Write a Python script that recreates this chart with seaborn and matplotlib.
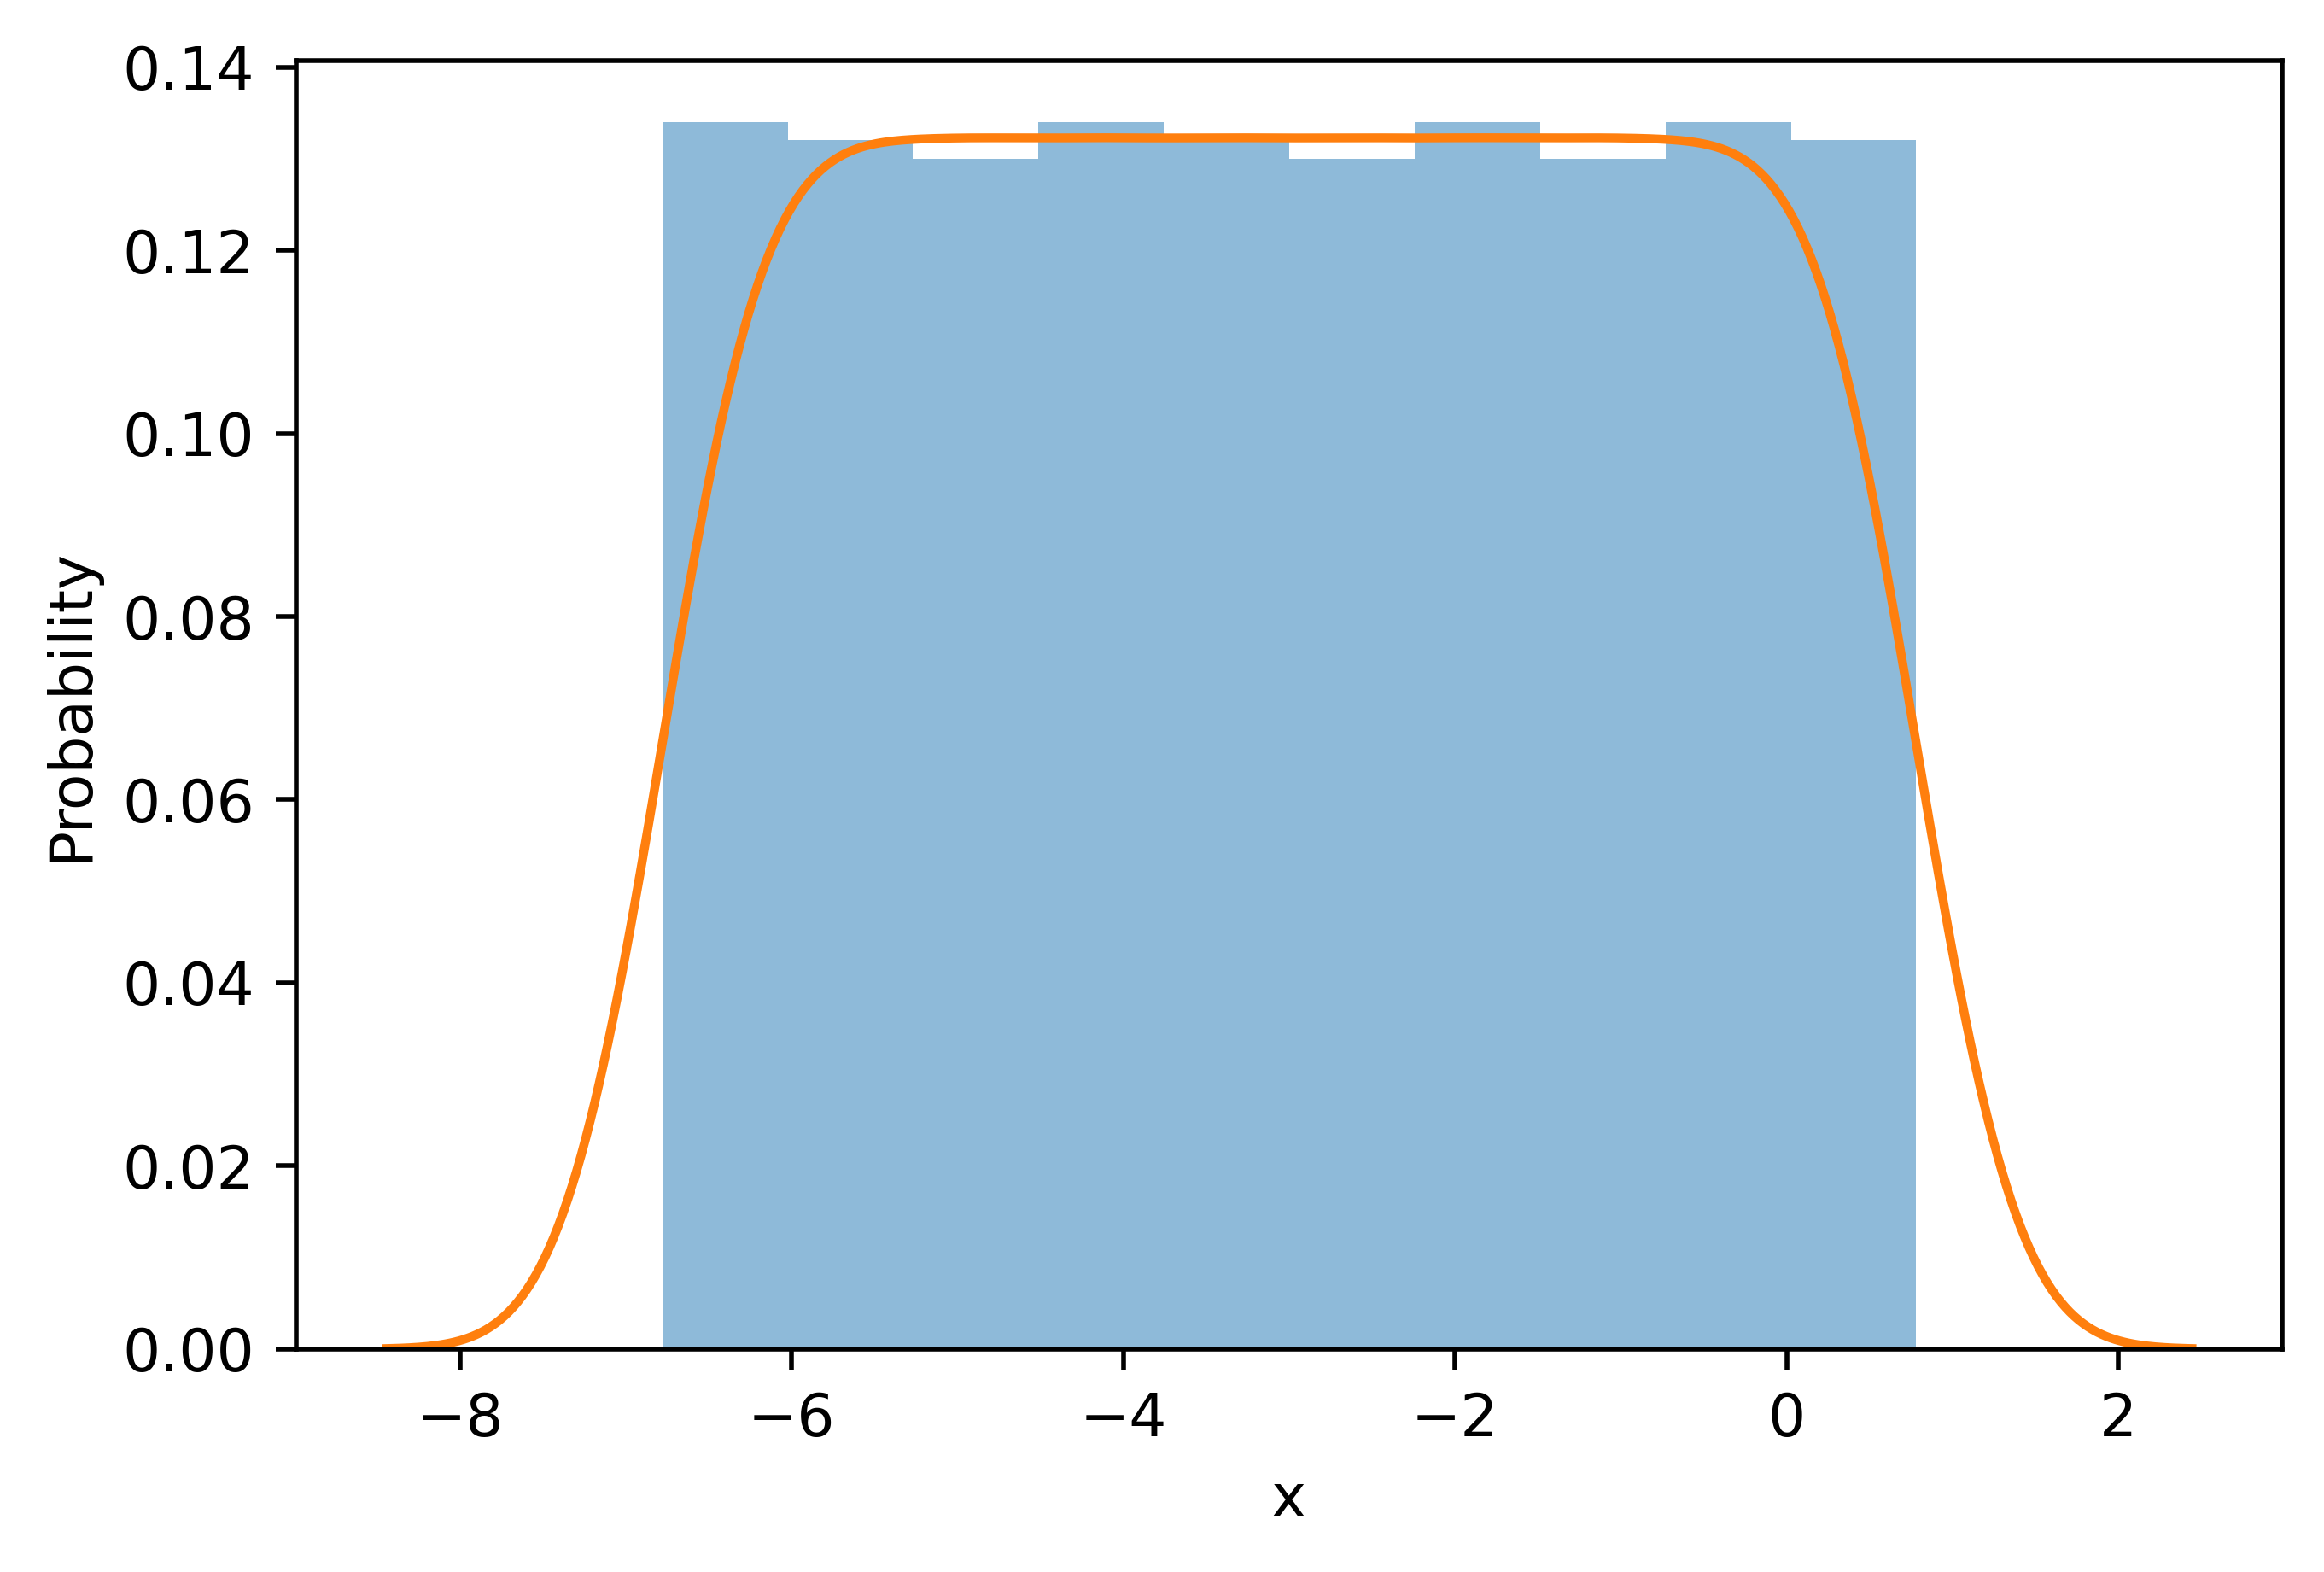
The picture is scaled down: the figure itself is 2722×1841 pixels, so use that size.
import numpy as np
import pandas as pd
import matplotlib
matplotlib.use('Agg')
import matplotlib.pyplot as plt
import seaborn as sns

# histogram: 10 equal bins, density heights
bin_edges = [-6.78, -6.024, -5.268, -4.512, -3.756, -3.0,
             -2.244, -1.488, -0.732, 0.024, 0.78]
bin_heights = [0.134, 0.132, 0.130, 0.134, 0.132,
               0.130, 0.134, 0.130, 0.134, 0.132]
x_label = 'x'
y_label = 'Probability'

edges = np.array(bin_edges)
df = pd.DataFrame({
    'x': (edges[:-1] + edges[1:]) / 2,
    'w': bin_heights,
})

DPI = 500
fig, ax = plt.subplots(figsize=(2722 / DPI, 1841 / DPI), dpi=DPI)
fig.subplots_adjust(left=0.1275, right=0.982, bottom=0.1418, top=0.9614)

sns.histplot(data=df, x='x', weights='w', bins=bin_edges, stat='count',
             color='C0', alpha=0.5, linewidth=0, ax=ax)

# smooth density of the same sample (flat top, soft shoulders)
bw = 0.54
sns.kdeplot(data=df, x='x', bw_method=bw / df['x'].std(), cut=2.04 / bw,
            gridsize=400, color='C1', linewidth=1.5, ax=ax)

ax.set_xlabel(x_label)
ax.set_ylabel(y_label)

fig.savefig('out.png', dpi=DPI)
